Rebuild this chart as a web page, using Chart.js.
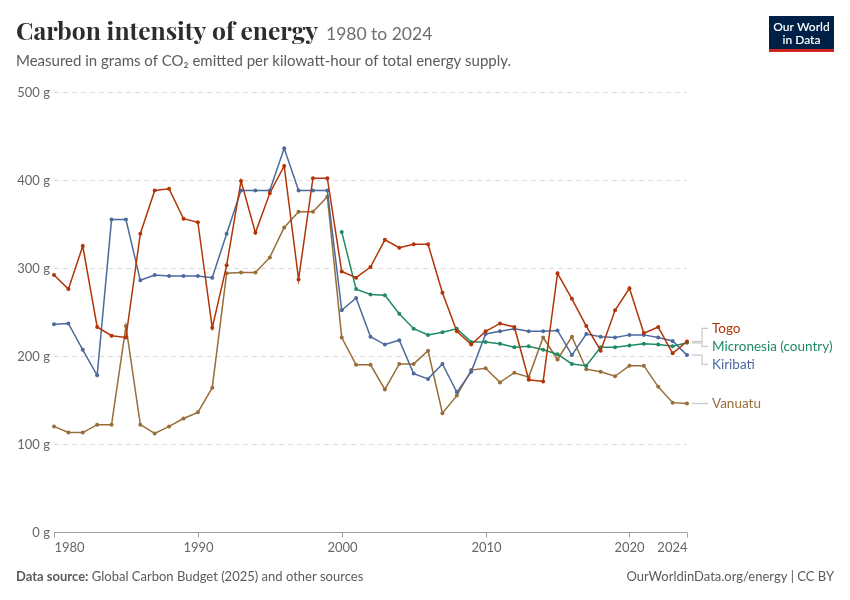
<!DOCTYPE html>
<html>
<head>
<meta charset="utf-8">
<script src="https://cdn.jsdelivr.net/npm/chart.js@4.4.1/dist/chart.umd.min.js"></script>
<style>
html,body{margin:0;padding:0;background:#fff;}
#wrap{width:850px;height:600px;position:relative;}
</style>
</head>
<body>
<div id="wrap"><canvas id="c" width="850" height="600"></canvas></div>
<script>
const years = [1980,1981,1982,1983,1984,1985,1986,1987,1988,1989,
  1990,1991,1992,1993,1994,1995,1996,1997,1998,1999,
  2000,2001,2002,2003,2004,2005,2006,2007,2008,2009,
  2010,2011,2012,2013,2014,2015,2016,2017,2018,2019,
  2020,2021,2022,2023,2024];

const togo = [292,276,325,233,223,221,339,388,390,356,
  352,232,303,399,340,385,416,287,402,402,
  296,289,301,332,323,327,327,272,228,213,
  228,237,233,173,171,294,265,234,206,252,
  277,226,233,203,216.5];

const micronesia = [null,null,null,null,null,null,null,null,null,null,
  null,null,null,null,null,null,null,null,null,null,
  341,276,270,269,248,231,224,227,231,216,
  216,214,210,211,207,202,191,189,210,210,
  212,214,213,211,215];

const kiribati = [236,237,207,178,355,355,286,292,291,291,
  291,289,339,388,388,388,436,388,388,388,
  252,266,222,213,218,180,174,191,159,182,
  225,228,231,228,228,229,201,225,222,221,
  224,224,221,217,201];

const vanuatu = [120,113,113,122,122,234,122,112,120,129,
  136,164,294,295,295,312,346,364,364,381,
  221,190,190,162,191,191,206,135,155,184,
  186,170,181,176,221,196,222,185,182,177,
  189,189,165,147,146];

const seriesNames = ["Togo","Micronesia (country)","Kiribati","Vanuatu"];
const seriesColors = ["#B13507","#1F8A63","#4C6A9C","#996D39"];
const seriesData = [togo, micronesia, kiribati, vanuatu];

const xTicks = [1980,1990,2000,2010,2020,2024];
const yTicks = [0,100,200,300,400,500];

const LATO = 'Lato, "Noto Sans", sans-serif';

function mkData(arr){ return years.map((y,i)=>({x:y,y:arr[i]})); }

const decor = {
  id:'decor',
  beforeDatasetsDraw(chart){
    const ctx = chart.ctx, xs = chart.scales.x, ys = chart.scales.y;
    const L = chart.chartArea.left, R = chart.chartArea.right;
    ctx.save();
    ctx.font = '13px ' + LATO;
    ctx.fillStyle = '#666';
    ctx.textAlign = 'right';
    ctx.textBaseline = 'middle';
    yTicks.forEach(v=>{
      const py = Math.round(ys.getPixelForValue(v)) + 0.5;
      ctx.fillText(v + ' g', L - 4, py);
      if (v !== 0) {
        ctx.strokeStyle = '#dcdcdc';
        ctx.lineWidth = 1;
        ctx.setLineDash([5,4]);
        ctx.beginPath(); ctx.moveTo(L, py); ctx.lineTo(R, py); ctx.stroke();
        ctx.setLineDash([]);
      }
    });
    const y0 = Math.round(ys.getPixelForValue(0)) + 0.5;
    ctx.strokeStyle = '#a0a0a0';
    ctx.lineWidth = 1;
    ctx.beginPath(); ctx.moveTo(L, y0); ctx.lineTo(R, y0); ctx.stroke();
    ctx.textBaseline = 'middle';
    xTicks.forEach((v,i)=>{
      const px = Math.round(xs.getPixelForValue(v)) + 0.5;
      ctx.beginPath(); ctx.moveTo(px, y0); ctx.lineTo(px, y0 + 5); ctx.stroke();
      ctx.textAlign = i === 0 ? 'left' : (i === xTicks.length - 1 ? 'right' : 'center');
      ctx.fillText(String(v), px, y0 + 15);
    });
    ctx.restore();
  },
  afterDraw(chart){
    const ctx = chart.ctx, xs = chart.scales.x, ys = chart.scales.y;
    ctx.save();
    const title = 'Carbon intensity of energy';
    let fs = 26;
    ctx.font = 'bold ' + fs + 'px "Playfair Display", "DejaVu Serif", "Liberation Serif", serif';
    const w0 = ctx.measureText(title).width;
    fs = fs * 302 / w0;
    ctx.font = 'bold ' + fs.toFixed(2) + 'px "Playfair Display", "DejaVu Serif", "Liberation Serif", serif';
    ctx.fillStyle = '#2d2d2d';
    ctx.textAlign = 'left';
    ctx.textBaseline = 'alphabetic';
    ctx.fillText(title, 16, 40);
    ctx.font = '17.5px ' + LATO;
    ctx.fillStyle = '#6e6e6e';
    ctx.fillText('1980 to 2024', 16 + 302 + 8, 40);
    ctx.font = '15px ' + LATO;
    ctx.fillStyle = '#5b5b5b';
    ctx.fillText('Measured in grams of CO₂ emitted per kilowatt-hour of total energy supply.', 16, 66);
    ctx.fillStyle = '#002147';
    ctx.fillRect(769, 16, 65, 34);
    ctx.fillStyle = '#CE261E';
    ctx.fillRect(769, 49, 65, 3);
    ctx.fillStyle = '#fff';
    ctx.font = '600 12px ' + LATO;
    ctx.textAlign = 'center';
    ctx.textBaseline = 'middle';
    ctx.fillText('Our World', 801.5, 27);
    ctx.fillText('in Data', 801.5, 40);
    ctx.textAlign = 'left';
    ctx.textBaseline = 'alphabetic';
    ctx.fillStyle = '#5b5b5b';
    ctx.font = 'bold 13px ' + LATO;
    ctx.fillText('Data source:', 16, 581);
    const dsw = ctx.measureText('Data source:').width;
    ctx.font = '13px ' + LATO;
    ctx.fillText(' Global Carbon Budget (2025) and other sources', 16 + dsw, 581);
    ctx.textAlign = 'right';
    ctx.fillText('OurWorldinData.org/energy | CC BY', 834, 581);

    const lastIdx = years.length - 1;
    const endX = xs.getPixelForValue(years[lastIdx]);
    let items = seriesNames.map((n,i)=>({name:n, color:seriesColors[i], y:ys.getPixelForValue(seriesData[i][lastIdx])}));
    items.forEach(it=>it.ly = it.y);
    items.sort((a,b)=>a.y-b.y);
    const gap = 18;
    let groups = items.map(it=>({members:[it]}));
    let changed = true;
    function layoutGroup(g){
      const mean = g.members.reduce((s,m)=>s+m.y,0)/g.members.length;
      const n = g.members.length;
      g.members.forEach((m,k)=>{ m.ly = mean + (k - (n-1)/2)*gap; });
    }
    groups.forEach(layoutGroup);
    while(changed){
      changed = false;
      for(let i=0;i<groups.length-1;i++){
        const a = groups[i], b = groups[i+1];
        const aLast = a.members[a.members.length-1], bFirst = b.members[0];
        if (bFirst.ly - aLast.ly < gap){
          a.members = a.members.concat(b.members);
          groups.splice(i+1,1);
          layoutGroup(a);
          changed = true;
          break;
        }
      }
    }
    ctx.font = '13.5px ' + LATO;
    ctx.textAlign = 'left';
    ctx.textBaseline = 'middle';
    const x1 = endX + 5, xm = endX + 15, x2 = endX + 21, tx = endX + 25;
    items.forEach(it=>{
      ctx.strokeStyle = '#c8c8c8';
      ctx.lineWidth = 1.2;
      ctx.beginPath();
      ctx.moveTo(x1, it.y);
      ctx.lineTo(xm, it.y);
      ctx.lineTo(xm, it.ly);
      ctx.lineTo(x2, it.ly);
      ctx.stroke();
      ctx.fillStyle = it.color;
      ctx.fillText(it.name, tx, it.ly);
    });
    ctx.restore();
  }
};

const chart = new Chart(document.getElementById('c'), {
  type: 'line',
  data: {
    datasets: seriesNames.map((n,i)=>({
      label: n,
      data: mkData(seriesData[i]),
      borderColor: seriesColors[i],
      backgroundColor: seriesColors[i],
      borderWidth: 1.5,
      pointRadius: 2,
      pointHoverRadius: 2,
      pointBorderWidth: 0,
      tension: 0,
      spanGaps: false,
      clip: 6
    }))
  },
  options: {
    responsive: false,
    animation: false,
    events: [],
    layout: { padding: { left: 54, right: 163, top: 92, bottom: 68 } },
    plugins: { legend: { display: false }, tooltip: { enabled: false }, title: { display: false } },
    scales: {
      x: { type: 'linear', min: 1980, max: 2024, display: false },
      y: { type: 'linear', min: 0, max: 500, display: false }
    }
  },
  plugins: [decor]
});
</script>
</body>
</html>
